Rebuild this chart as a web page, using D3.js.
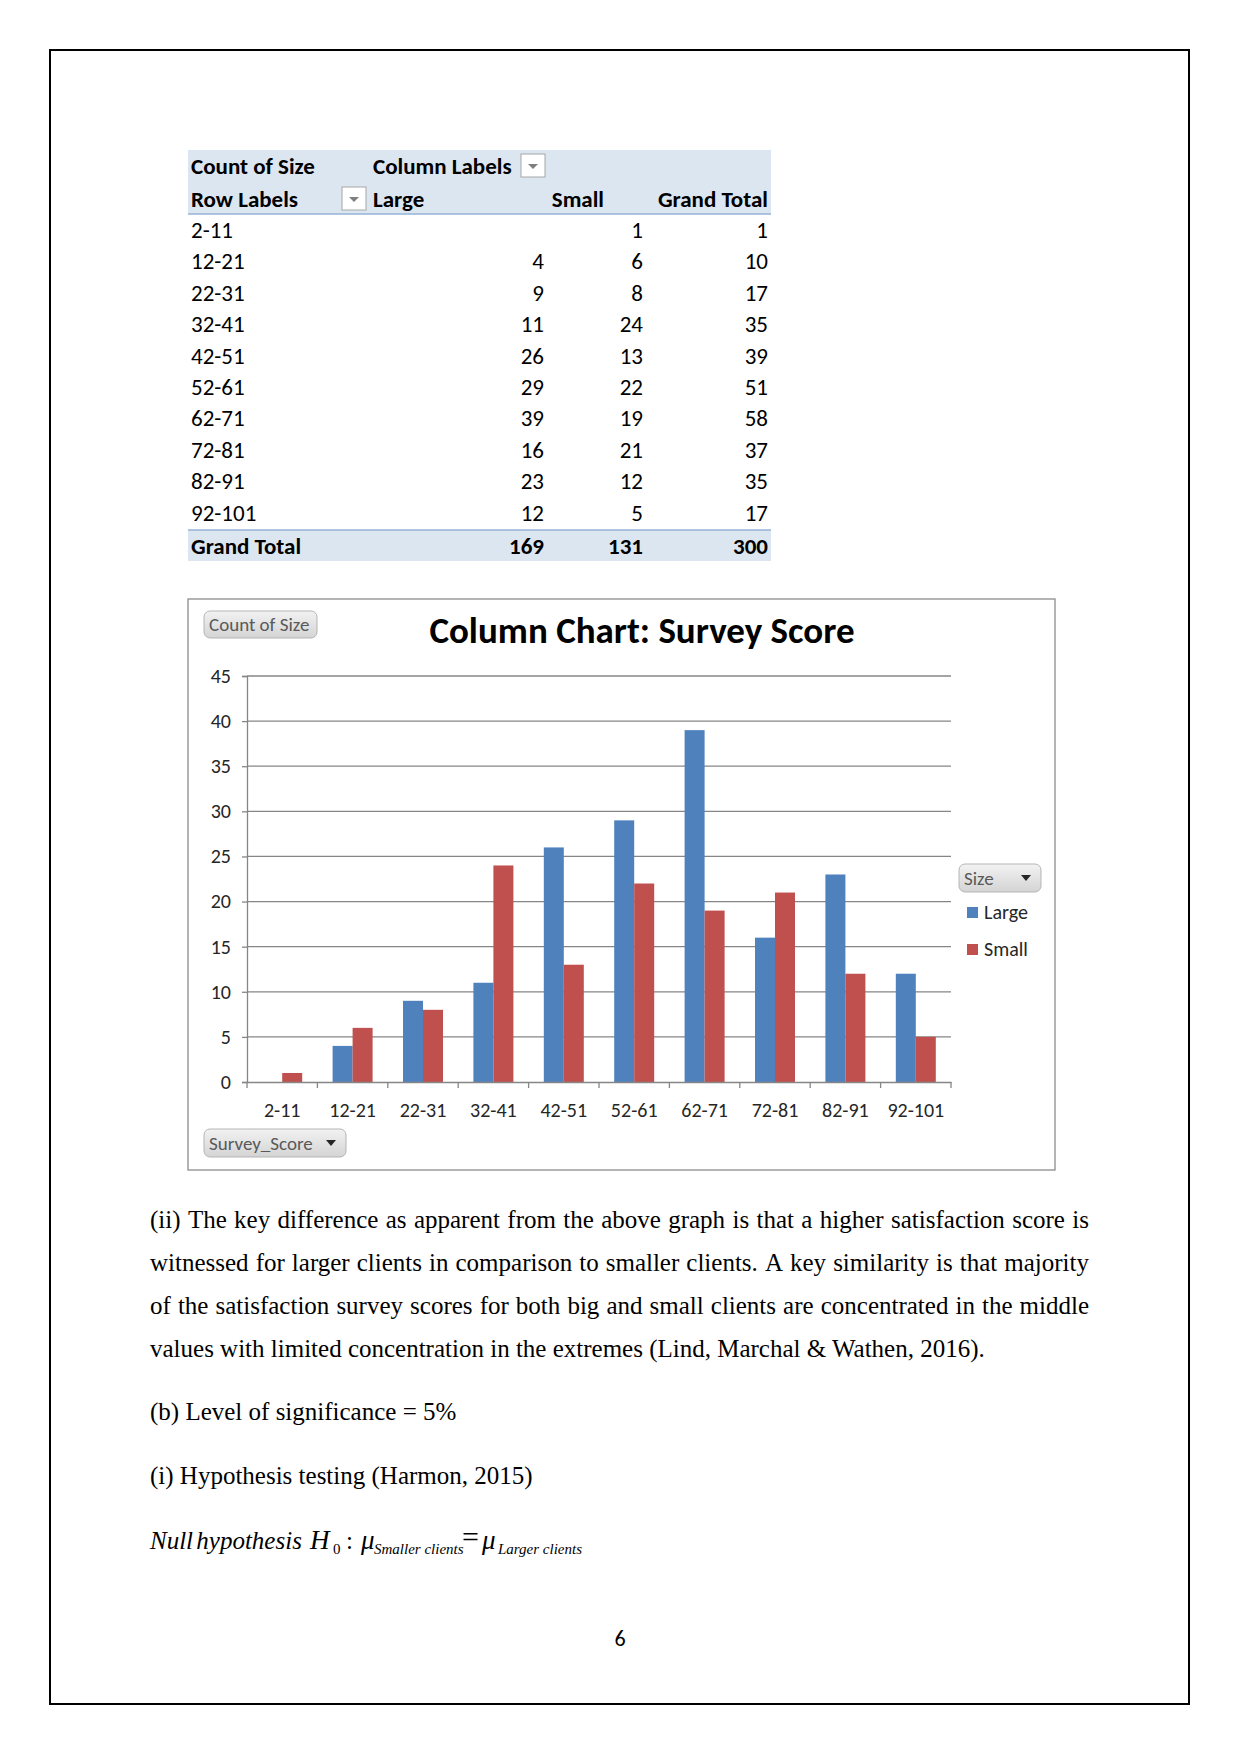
<!DOCTYPE html>
<html>
<head>
<meta charset="utf-8">
<script src="https://cdn.jsdelivr.net/npm/d3@7"></script>
<style>
  body { margin: 0; background: #fff; }
  svg { display: block; }
</style>
</head>
<body>
<div id="page"></div>
<script>
// pivot table / chart data
var categories = ["2-11", "12-21", "22-31", "32-41", "42-51", "52-61", "62-71", "72-81", "82-91", "92-101"];
var largeCounts = [null, 4, 9, 11, 26, 29, 39, 16, 23, 12];
var smallCounts = [1, 6, 8, 24, 13, 22, 19, 21, 12, 5];
var seriesNames = ["Large", "Small"];
var seriesColors = ["#4F81BD", "#C0504D"];
var yTicks = [0, 5, 10, 15, 20, 25, 30, 35, 40, 45];

var paragraph = [
    "(ii) The key difference as apparent from the above graph is that a higher satisfaction score is",
    "witnessed for larger clients in comparison to smaller clients. A key similarity is that majority",
    "of the satisfaction survey scores for both big and small clients are concentrated in the middle",
    "values with limited concentration in the extremes (Lind, Marchal & Wathen, 2016)."
];

var sans = "Carlito, Lato, sans-serif";
var serif = "'Liberation Serif', 'Times New Roman', serif";

var svg = d3.select("#page").append("svg")
    .attr("width", 1241)
    .attr("height", 1754);

var defs = svg.append("defs");
var grad = defs.append("linearGradient").attr("id", "btn").attr("x1", 0).attr("y1", 0).attr("x2", 0).attr("y2", 1);
grad.append("stop").attr("offset", "0%").attr("stop-color", "#f2f2f2");
grad.append("stop").attr("offset", "100%").attr("stop-color", "#d4d4d4");

// page frame
svg.append("rect")
    .attr("x", 50).attr("y", 50).attr("width", 1139).attr("height", 1654)
    .attr("fill", "none").attr("stroke", "#000").attr("stroke-width", 2);

// ---------- pivot table ----------
function drawTable() {
    var g = svg.append("g").attr("font-family", sans).attr("font-size", 23).attr("fill", "#000");
    var left = 188, right = 771;
    var colLarge = 544, colSmall = 643, colTotal = 768;
    var rowTop = 215, rowH = 31.4;

    g.append("rect").attr("x", left).attr("y", 150).attr("width", right - left).attr("height", 64).attr("fill", "#DCE6F1");
    g.append("line").attr("x1", left).attr("x2", right).attr("y1", 214).attr("y2", 214).attr("stroke", "#95B3D7").attr("stroke-width", 1.5);

    g.append("text").attr("x", 191).attr("y", 174).attr("font-weight", "bold").text("Count of Size");
    g.append("text").attr("x", 373).attr("y", 174).attr("font-weight", "bold").text("Column Labels");
    g.append("text").attr("x", 191).attr("y", 207).attr("font-weight", "bold").text("Row Labels");
    g.append("text").attr("x", 373).attr("y", 207).attr("font-weight", "bold").text("Large");
    g.append("text").attr("x", 604).attr("y", 207).attr("font-weight", "bold").attr("text-anchor", "end").text("Small");
    g.append("text").attr("x", colTotal).attr("y", 207).attr("font-weight", "bold").attr("text-anchor", "end").text("Grand Total");

    // filter buttons
    [[521, 154], [342, 187]].forEach(function (p) {
        g.append("rect").attr("x", p[0]).attr("y", p[1]).attr("width", 24).attr("height", 23)
            .attr("fill", "#fff").attr("stroke", "#a6a6a6");
        g.append("path")
            .attr("d", "M" + (p[0] + 7) + "," + (p[1] + 10) + "h10l-5,5z")
            .attr("fill", "#7f7f7f");
    });

    categories.forEach(function (c, i) {
        var y = rowTop + i * rowH + 23;
        g.append("text").attr("x", 191).attr("y", y).text(c);
        if (largeCounts[i] != null) g.append("text").attr("x", colLarge).attr("y", y).attr("text-anchor", "end").text(largeCounts[i]);
        g.append("text").attr("x", colSmall).attr("y", y).attr("text-anchor", "end").text(smallCounts[i]);
        g.append("text").attr("x", colTotal).attr("y", y).attr("text-anchor", "end").text((largeCounts[i] || 0) + smallCounts[i]);
    });

    var gy = 530;
    g.append("rect").attr("x", left).attr("y", gy).attr("width", right - left).attr("height", 31).attr("fill", "#DCE6F1");
    g.append("line").attr("x1", left).attr("x2", right).attr("y1", gy).attr("y2", gy).attr("stroke", "#95B3D7").attr("stroke-width", 1.5);
    var gt = g.append("g").attr("font-weight", "bold");
    gt.append("text").attr("x", 191).attr("y", gy + 24).text("Grand Total");
    gt.append("text").attr("x", colLarge).attr("y", gy + 24).attr("text-anchor", "end").text(d3.sum(largeCounts));
    gt.append("text").attr("x", colSmall).attr("y", gy + 24).attr("text-anchor", "end").text(d3.sum(smallCounts));
    gt.append("text").attr("x", colTotal).attr("y", gy + 24).attr("text-anchor", "end").text(d3.sum(largeCounts) + d3.sum(smallCounts));
}

// grey field button like excel pivot charts
function fieldButton(g, x, y, w, h, label, arrow) {
    g.append("rect").attr("x", x).attr("y", y).attr("width", w).attr("height", h).attr("rx", 6)
        .attr("fill", "url(#btn)").attr("stroke", "#b5b5b5");
    g.append("text").attr("x", x + 5).attr("y", y + h / 2 + 6.5)
        .attr("font-family", sans).attr("font-size", 19).attr("fill", "#595959").text(label);
    if (arrow) {
        g.append("path").attr("d", "M" + (x + w - 20) + "," + (y + h / 2 - 3) + "h10l-5,6z").attr("fill", "#262626");
    }
}

// ---------- column chart ----------
function drawChart() {
    var g = svg.append("g");
    g.append("rect").attr("x", 188).attr("y", 599).attr("width", 867).attr("height", 571)
        .attr("fill", "#fff").attr("stroke", "#8c8c8c").attr("stroke-width", 1.3);

    g.append("text").attr("x", 642).attr("y", 643).attr("text-anchor", "middle")
        .attr("font-family", sans).attr("font-size", 37).attr("font-weight", "bold").attr("fill", "#000")
        .text("Column Chart: Survey Score");

    fieldButton(g, 204, 611, 113, 27, "Count of Size", false);
    fieldButton(g, 204, 1129, 142, 28, "Survey_Score", true);

    var x = d3.scaleBand().domain(categories).range([247, 951]).padding(0);
    var xs = d3.scaleBand().domain(seriesNames).range([0, 40]);
    var y = d3.scaleLinear().domain([0, 45]).range([1082, 676]);

    // gridlines
    g.append("g").selectAll("line").data(yTicks.slice(1)).enter().append("line")
        .attr("x1", 247).attr("x2", 951)
        .attr("y1", function (d) { return y(d); }).attr("y2", function (d) { return y(d); })
        .attr("stroke", "#868686").attr("stroke-width", 1.3);

    var yAxis = g.append("g").attr("transform", "translate(247,0)")
        .call(d3.axisLeft(y).tickValues(yTicks).tickSize(5).tickPadding(11));
    yAxis.select(".domain").attr("stroke", "#868686").attr("stroke-width", 1.3);
    yAxis.selectAll(".tick line").attr("stroke", "#868686").attr("stroke-width", 1.3);
    yAxis.selectAll("text").attr("font-family", sans).attr("font-size", 20).attr("fill", "#262626");

    var bars = g.append("g");
    var rows = categories.map(function (c, i) { return { cat: c, vals: [largeCounts[i] || 0, smallCounts[i]] }; });
    rows.forEach(function (r) {
        var cx = x(r.cat) + x.bandwidth() / 2 - 20;
        bars.selectAll(null).data(seriesNames).enter().append("rect")
            .attr("x", function (s) { return cx + xs(s); })
            .attr("width", xs.bandwidth())
            .attr("y", function (s, k) { return y(r.vals[k]); })
            .attr("height", function (s, k) { return y(0) - y(r.vals[k]); })
            .attr("fill", function (s, k) { return seriesColors[k]; });
    });

    var xAxis = g.append("g").attr("transform", "translate(0,1082)")
        .call(d3.axisBottom(x).tickSize(0).tickPadding(21));
    xAxis.select(".domain").attr("stroke", "#868686").attr("stroke-width", 1.3);
    xAxis.selectAll("text").attr("font-family", sans).attr("font-size", 20).attr("fill", "#262626");
    // category separators
    g.append("g").selectAll("line").data(categories.concat(["end"])).enter().append("line")
        .attr("x1", function (d, i) { return 247 + i * x.bandwidth(); })
        .attr("x2", function (d, i) { return 247 + i * x.bandwidth(); })
        .attr("y1", 1082).attr("y2", 1088)
        .attr("stroke", "#868686").attr("stroke-width", 1.3);

    // legend
    fieldButton(g, 959, 864, 82, 28, "Size", true);
    var lg = g.append("g").selectAll("g").data(seriesNames).enter().append("g")
        .attr("transform", function (d, i) { return "translate(967," + (907 + i * 37) + ")"; });
    lg.append("rect").attr("width", 11).attr("height", 11).attr("fill", function (d, i) { return seriesColors[i]; });
    lg.append("text").attr("x", 17).attr("y", 12).attr("font-family", sans).attr("font-size", 20).attr("fill", "#262626")
        .text(function (d) { return d; });
}

// ---------- body text ----------
function drawText() {
    var g = svg.append("g").attr("font-family", serif).attr("font-size", 25).attr("fill", "#000");
    var left = 150, right = 1089;
    paragraph.forEach(function (line, i) {
        var yb = 1228 + i * 43;
        var t = g.append("text").attr("y", yb);
        if (i === paragraph.length - 1) {
            t.attr("x", left).text(line);
            return;
        }
        var words = line.split(" ");
        var widths = words.map(function (w) {
            var tmp = g.append("text").text(w);
            var wd = tmp.node().getComputedTextLength();
            tmp.remove();
            return wd;
        });
        var gap = (right - left - d3.sum(widths)) / (words.length - 1);
        var xx = left;
        words.forEach(function (w, k) {
            t.append("tspan").attr("x", xx).text(w);
            xx += widths[k] + gap;
        });
    });
    g.append("text").attr("x", left).attr("y", 1420).text("(b) Level of significance = 5%");
    g.append("text").attr("x", left).attr("y", 1484).text("(i) Hypothesis testing (Harmon, 2015)");

    var by = 1549;
    var h = g.append("g").attr("font-style", "italic");
    h.append("text").attr("x", left).attr("y", by).attr("word-spacing", -3).text("Null hypothesis");
    h.append("text").attr("x", 310).attr("y", by).attr("font-size", 27).text("H");
    g.append("text").attr("x", 333).attr("y", by + 5).attr("font-size", 15).text("0");
    g.append("text").attr("x", 346).attr("y", by).text(":");
    h.append("text").attr("x", 361).attr("y", by).attr("font-size", 27).text("μ");
    h.append("text").attr("x", 374).attr("y", by + 5).attr("font-size", 15).text("Smaller clients");
    g.append("text").attr("x", 462).attr("y", by - 2).attr("font-size", 30).text("=");
    h.append("text").attr("x", 482).attr("y", by).attr("font-size", 27).text("μ");
    h.append("text").attr("x", 498).attr("y", by + 5).attr("font-size", 15).text("Larger clients");

    svg.append("text").attr("x", 620).attr("y", 1646).attr("text-anchor", "middle")
        .attr("font-family", sans).attr("font-size", 22).text("6");
}

drawTable();
drawChart();
drawText();
</script>
</body>
</html>
